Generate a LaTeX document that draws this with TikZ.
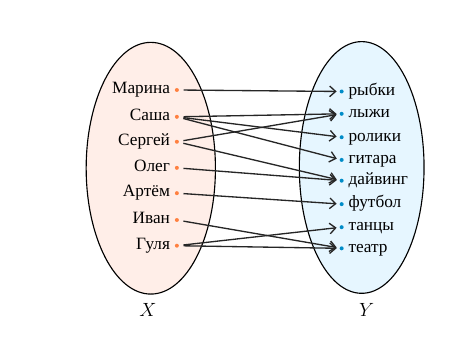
\documentclass[tikz,border=0pt]{standalone}
\usepackage{fontspec}
\setmainfont{Liberation Serif}
\usetikzlibrary{positioning, arrows.meta}

\definecolor{fondoX}{RGB}{255,238,232}
\definecolor{fondoY}{RGB}{230,246,255}
\definecolor{puntoX}{RGB}{255,128,64}
\definecolor{puntoY}{RGB}{0,140,200}

\begin{document}
\begin{tikzpicture}[font=\fontsize{13}{15}\selectfont,
    punto/.style={circle, inner sep=0pt, outer sep=0pt, minimum size=3pt},
    nome/.style={inner sep=0pt, text height=1.5ex, text depth=0.25ex},
    freccia/.style={-{Straight Barb[length=4.5pt, width=8pt]}, line width=1pt, black!85,
        shorten <=3.5pt, shorten >=2.3pt}]
    \useasboundingbox (0,0) rectangle (12.515,9.181);

    % insiemi
    \draw[line width=0.85pt, fill=fondoX] (3.99,4.73) ellipse (1.71 and 3.33);
    \draw[line width=0.85pt, fill=fondoY] (9.57,4.75) ellipse (1.65 and 3.33);
    \node[font=\fontsize{15}{17}\selectfont] (X) at (3.91,0.98) {$X$};
    \node[font=\fontsize{15}{17}\selectfont] (Y) at (9.70,0.98) {$Y$};

    % punti di X
    \node[punto, fill=puntoX] (A1) at (4.68,6.80) {};
    \node[punto, fill=puntoX] (A2) at (4.68,6.09) {};
    \node[punto, fill=puntoX] (A3) at (4.68,5.43) {};
    \node[punto, fill=puntoX] (A4) at (4.68,4.74) {};
    \node[punto, fill=puntoX] (A5) at (4.68,4.07) {};
    \node[punto, fill=puntoX] (A6) at (4.68,3.36) {};
    \node[punto, fill=puntoX] (A7) at (4.68,2.68) {};

    % punti di Y
    \node[punto, fill=puntoY] (B1) at (9.04,6.76) {};
    \node[punto, fill=puntoY] (B2) at (9.04,6.17) {};
    \node[punto, fill=puntoY] (B3) at (9.04,5.55) {};
    \node[punto, fill=puntoY] (B4) at (9.04,4.95) {};
    \node[punto, fill=puntoY] (B5) at (9.04,4.40) {};
    \node[punto, fill=puntoY] (B6) at (9.04,3.78) {};
    \node[punto, fill=puntoY] (B7) at (9.04,3.17) {};
    \node[punto, fill=puntoY] (B8) at (9.04,2.61) {};

    % etichette
    \node[nome, left=3.5pt of A1] (nA1) {Марина};
    \node[nome, left=3.5pt of A2] (nA2) {Саша};
    \node[nome, left=3.5pt of A3] (nA3) {Сергей};
    \node[nome, left=3.5pt of A4] (nA4) {Олег};
    \node[nome, left=3.5pt of A5] (nA5) {Артём};
    \node[nome, left=3.5pt of A6] (nA6) {Иван};
    \node[nome, left=3.5pt of A7] (nA7) {Гуля};

    \node[nome, right=3.5pt of B1] (nB1) {рыбки};
    \node[nome, right=3.5pt of B2] (nB2) {лыжи};
    \node[nome, right=3.5pt of B3] (nB3) {ролики};
    \node[nome, right=3.5pt of B4] (nB4) {гитара};
    \node[nome, right=3.5pt of B5] (nB5) {дайвинг};
    \node[nome, right=3.5pt of B6] (nB6) {футбол};
    \node[nome, right=3.5pt of B7] (nB7) {танцы};
    \node[nome, right=3.5pt of B8] (nB8) {театр};

    % frecce
    \draw[freccia] (A1) -- (B1);
    \draw[freccia] (A2) -- (B2);
    \draw[freccia] (A2) -- (B3);
    \draw[freccia] (A2) -- (B4);
    \draw[freccia] (A3) -- (B2);
    \draw[freccia] (A3) -- (B5);
    \draw[freccia] (A4) -- (B5);
    \draw[freccia] (A5) -- (B6);
    \draw[freccia] (A6) -- (B8);
    \draw[freccia] (A7) -- (B7);
    \draw[freccia] (A7) -- (B8);
\end{tikzpicture}
\end{document}
